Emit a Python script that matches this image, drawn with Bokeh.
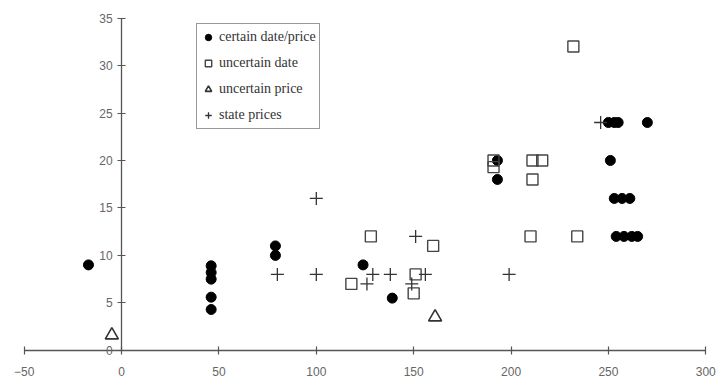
from bokeh.plotting import figure
from bokeh.models import Range1d, Legend, LegendItem, FixedTicker
from bokeh.embed import file_html
from bokeh.resources import INLINE

# data
cd_x = [-17, 46, 46, 46, 46, 46, 79, 79, 124, 139, 193, 193, 250, 253, 255, 270, 251, 253, 257, 261, 254, 258, 262, 265]
cd_y = [9, 8.9, 8.2, 7.5, 5.6, 4.3, 11, 10, 9, 5.5, 20, 18, 24, 24, 24, 24, 20, 16, 16, 16, 12, 12, 12, 12]
ud_x = [232, 191, 191, 211, 216, 211, 210, 234, 128, 160, 118, 151, 150]
ud_y = [32, 20, 19.3, 20, 20, 18, 12, 12, 12, 11, 7, 8, 6]
up_x = [-5, 161]
up_y = [1.6, 3.5]
sp_x = [100, 80, 100, 129, 126, 138, 151, 156, 149, 199, 246]
sp_y = [16, 8, 8, 8, 7, 8, 12, 8, 7, 8, 24]
x_ticks = [-50, 0, 50, 100, 150, 200, 250, 300]
y_ticks = [0, 5, 10, 15, 20, 25, 30, 35]
labels = ["certain date/price", "uncertain date", "uncertain price", "state prices"]

p = figure(width=720, height=388, output_backend="svg", toolbar_location=None,
           x_range=Range1d(-55.5, 305.5), y_range=Range1d(-3.6, 35.8),
           min_border_left=13, min_border_right=4, min_border_top=10, min_border_bottom=4)
p.grid.visible = False
p.outline_line_color = None
p.background_fill_color = "white"
p.border_fill_color = "white"

axis_col = "#555555"
for ax in (p.xaxis[0], p.yaxis[0]):
    ax.axis_line_color = axis_col
    ax.axis_line_width = 1.3
    ax.major_tick_line_color = axis_col
    ax.major_tick_line_width = 1.2
    ax.major_tick_in = 4
    ax.major_tick_out = 4
    ax.minor_tick_line_color = None
    ax.major_label_text_color = "#666666"
    ax.major_label_text_font = "Liberation Sans"
    ax.major_label_text_font_size = "12px"

p.xaxis.ticker = FixedTicker(ticks=x_ticks)
p.yaxis.ticker = FixedTicker(ticks=y_ticks)
p.xaxis.major_label_standoff = 13
p.yaxis.major_label_standoff = 5
p.yaxis.fixed_location = 0
p.xaxis.fixed_location = 0
p.yaxis.bounds = (0, 35)
p.xaxis.bounds = (-50, 300)

r1 = p.scatter(cd_x, cd_y, marker="circle", size=10, fill_color="black", line_color="black")
r2 = p.scatter(ud_x, ud_y, marker="square", size=11, fill_color=None, line_color="#444444", line_width=1.4)
r3 = p.scatter(up_x, up_y, marker="triangle", size=13, fill_color=None, line_color="#333333", line_width=1.6)
r4 = p.scatter(sp_x, sp_y, marker="cross", size=13, line_color="#333333", line_width=1.3)

legend = Legend(items=[LegendItem(label=labels[0], renderers=[r1]),
                       LegendItem(label=labels[1], renderers=[r2]),
                       LegendItem(label=labels[2], renderers=[r3]),
                       LegendItem(label=labels[3], renderers=[r4])],
                location=(183, 255))
legend.label_text_font = "Liberation Serif"
legend.label_text_font_size = "14px"
legend.label_text_color = "#333333"
legend.border_line_color = "#333333"
legend.border_line_width = 1.3
legend.padding = 3
legend.spacing = 6
legend.glyph_width = 16
legend.glyph_height = 20
legend.label_standoff = 3
legend.label_height = 20
legend.margin = 0
p.add_layout(legend)

open("out.html", "w").write(file_html(p, INLINE))
